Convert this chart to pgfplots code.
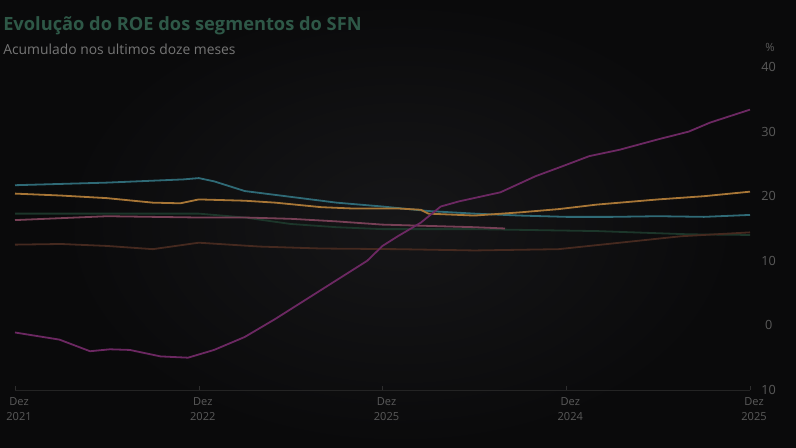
\documentclass[border=0pt]{standalone}
\usepackage{pgfplots}
\pgfplotsset{compat=1.18}
\usepackage{fontspec}
\setmainfont{Open Sans}
\definecolor{bgc}{HTML}{0A0A0B}
\definecolor{bgin}{HTML}{161618}
\definecolor{tealc}{HTML}{2F6A76}
\definecolor{orangec}{HTML}{A87636}
\definecolor{pinkc}{HTML}{774056}
\definecolor{greenc}{HTML}{1C362A}
\definecolor{brownc}{HTML}{45291F}
\definecolor{magc}{HTML}{6C2862}
\definecolor{titlec}{HTML}{2E5847}
\definecolor{subc}{HTML}{767676}
\definecolor{tickc}{HTML}{5A5A5A}
\begin{document}
\begin{tikzpicture}
\useasboundingbox (0pt,0pt) rectangle (597pt,336pt);
\fill[bgc] (0pt,0pt) rectangle (597pt,336pt);
\shade[inner color=bgin, outer color=bgc] (45pt,0pt) rectangle (555pt,336pt);
\node[anchor=base west, text=titlec, font=\bfseries\fontsize{13.7}{16}\selectfont, inner sep=0pt] at (2.25pt,312.75pt) {Evolução do ROE dos segmentos do SFN};
\node[anchor=base west, text=subc, font=\fontsize{10.4}{12}\selectfont, inner sep=0pt] at (2.25pt,295pt) {Acumulado nos ultimos doze meses};
\node[text=tickc, font=\fontsize{8.5}{10}\selectfont, inner sep=0pt] at (577.5pt,300.75pt) {\%};
\begin{axis}[
  at={(11.25pt,43.5pt)}, anchor=south west,
  scale only axis, width=551.25pt, height=242.25pt,
  xmin=0, xmax=48, ymin=-10, ymax=40,
  axis x line*=bottom, axis y line*=right,
  x axis line style={draw=white!14!black, line width=0.6pt, -},
  y axis line style={draw=none},
  xtick={0,12,24,36,48},
  xticklabels={Dez\\2021,Dez\\2022,Dez\\2025,Dez\\2024,Dez\\2025},
  xticklabel style={align=center, text=tickc, font=\fontsize{8.3}{11}\selectfont, yshift=-2.5pt, xshift=3pt},
  ytick={-10,0,10,20,30,40},
  yticklabels={10,0,10,20,30,40},
  yticklabel style={text=tickc, font=\fontsize{9.5}{11}\selectfont, anchor=center, xshift=14pt},
  major tick length=3pt,
  x tick style={draw=white!18!black},
  y tick style={draw=none},
  clip=false,
  every axis plot/.append style={line width=1.35pt, mark=none, line join=round},
]
\addplot[greenc] coordinates {(0,17.3)(6,17.3)(12,17.3)(15,16.7)(18,15.7)(21,15.2)(24,14.9)(30,14.9)(38,14.6)(44,14.1)(48,14.0)};
\addplot[brownc] coordinates {(0,12.5)(3,12.6)(6,12.3)(9,11.8)(12,12.8)(16,12.2)(20,11.9)(25,11.8)(30,11.6)(35.5,11.8)(39.5,12.8)(43.5,13.8)(48,14.4)};
\addplot[pinkc] coordinates {(0,16.3)(3,16.6)(6,16.9)(9,16.8)(12,16.7)(15,16.7)(18,16.5)(21,16.1)(24,15.6)(27,15.4)(30,15.2)(32,15.0)};
\addplot[tealc] coordinates {(0,21.7)(3,21.9)(6,22.1)(9,22.4)(11,22.6)(12,22.8)(13,22.3)(15,20.8)(18,19.9)(21,19.0)(24,18.4)(27,17.7)(30,17.3)(33,17.0)(36,16.8)(39,16.8)(42,16.9)(45,16.8)(48,17.1)};
\addplot[orangec] coordinates {(0,20.4)(3,20.1)(6,19.7)(9,19.0)(10.8,18.9)(12,19.5)(15,19.3)(17,19.0)(20,18.3)(22,18.1)(25,18.1)(26.5,17.9)(27,17.3)(30,17.0)(33,17.5)(35.5,18.0)(38,18.7)(42,19.5)(45,20.0)(48,20.7)};
\addplot[magc] coordinates {(0,-1.1)(2.9,-2.2)(4.9,-4.0)(6.2,-3.7)(7.5,-3.8)(9.5,-4.8)(11.3,-5.0)(13,-3.8)(15,-1.8)(17,1.0)(19,4.0)(21,7.0)(23,10.0)(24,12.3)(25,13.8)(26.5,15.9)(27.8,18.4)(29,19.2)(31.7,20.6)(34,23.1)(35.6,24.5)(37.5,26.2)(39.5,27.2)(42,28.8)(44,30.0)(45.4,31.4)(48,33.4)};
\end{axis}
\end{tikzpicture}
\end{document}
